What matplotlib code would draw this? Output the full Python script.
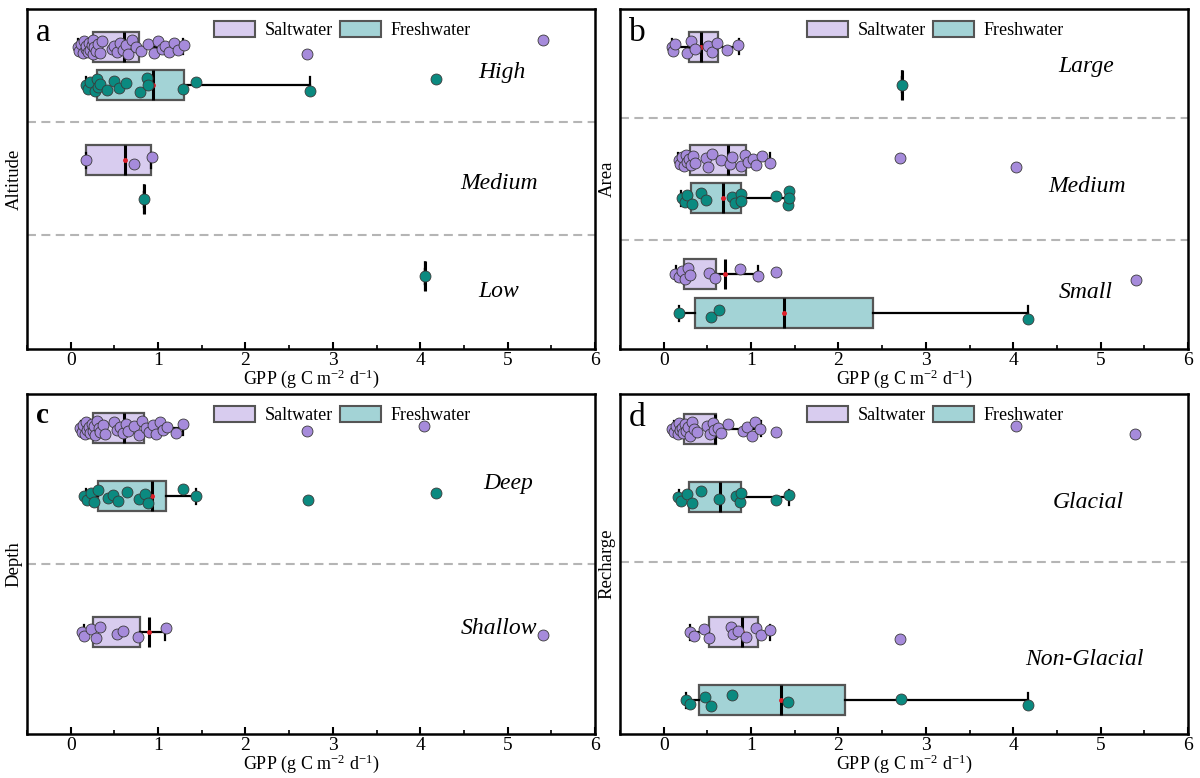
import numpy as np
import matplotlib.pyplot as plt
from matplotlib.patches import Patch

plt.rcParams['font.family'] = ['Liberation Serif', 'DejaVu Serif']
plt.rcParams['mathtext.default'] = 'regular'

SALT_FILL = '#d8ccef'
SALT_DOT = '#a68bdb'
FRESH_FILL = '#a3d3d6'
FRESH_DOT = '#0b8a80'
EDGE = '#555555'

# ---- a: Altitude ----
a_cats = ['High', 'Medium', 'Low']
a_salt_high = [0.08, 0.10, 0.12, 0.14, 0.15, 0.17, 0.18, 0.20, 0.21, 0.22, 0.24, 0.25, 0.26,
               0.27, 0.29, 0.31, 0.33, 0.36, 0.47, 0.50, 0.53, 0.56, 0.60, 0.63, 0.66, 0.70,
               0.75, 0.80, 0.88, 0.95, 1.00, 1.04, 1.08, 1.12, 1.18, 1.23, 1.30, 2.70, 5.40]
a_fresh_high = [0.17, 0.20, 0.22, 0.28, 0.30, 0.31, 0.33, 0.42, 0.49, 0.555, 0.635, 0.79,
                0.87, 0.89, 1.29, 1.43, 2.74, 4.18]
a_salt_med = [0.17, 0.73, 0.93]
a_fresh_med = [0.835]
a_fresh_low = [4.05]
# box stats: (whisker low, q1, median, q3, whisker high)
a_salt_box = [(0.08, 0.25, 0.615, 0.785, 1.29), (0.17, 0.17, 0.62, 0.92, 0.92), None]
a_fresh_box = [(0.17, 0.30, 0.94, 1.30, 2.74), (0.835,) * 5, (4.05,) * 5]

# ---- b: Area ----
b_cats = ['Large', 'Medium', 'Small']
b_salt_large = [0.09, 0.11, 0.13, 0.27, 0.31, 0.36, 0.51, 0.55, 0.61, 0.72, 0.85]
b_fresh_large = [2.73]
b_salt_med = [0.17, 0.19, 0.21, 0.23, 0.25, 0.27, 0.29, 0.31, 0.33, 0.36, 0.48, 0.51, 0.55,
              0.66, 0.76, 0.78, 0.89, 0.93, 0.97, 1.02, 1.06, 1.12, 1.22, 2.70, 4.03]
b_fresh_med = [0.21, 0.24, 0.27, 0.32, 0.43, 0.48, 0.78, 0.81, 0.88, 0.89, 1.28, 1.42, 1.43, 1.43]
b_salt_small = [0.13, 0.17, 0.21, 0.24, 0.28, 0.30, 0.52, 0.59, 0.87, 1.08, 1.28, 5.40]
b_fresh_small = [0.17, 0.54, 0.635, 4.17]
b_salt_box = [(0.09, 0.285, 0.426, 0.62, 0.86), (0.16, 0.30, 0.74, 0.94, 1.22),
              (0.14, 0.23, 0.70, 0.60, 1.08)]
b_fresh_box = [(2.73,) * 5, (0.20, 0.31, 0.68, 0.89, 1.43), (0.17, 0.36, 1.38, 2.40, 4.17)]

# ---- c: Depth ----
c_cats = ['Deep', 'Shallow']
c_salt_deep = [0.11, 0.13, 0.14, 0.16, 0.18, 0.19, 0.21, 0.22, 0.24, 0.25, 0.27, 0.28, 0.30,
               0.32, 0.34, 0.37, 0.39, 0.50, 0.53, 0.56, 0.60, 0.63, 0.66, 0.73, 0.78, 0.82,
               0.86, 0.90, 0.94, 0.98, 1.02, 1.06, 1.10, 1.21, 1.29, 2.71, 4.04]
c_fresh_deep = [0.155, 0.19, 0.23, 0.27, 0.31, 0.43, 0.48, 0.54, 0.64, 0.78, 0.85, 0.88,
                1.29, 1.43, 2.72, 4.18]
c_salt_shallow = [0.135, 0.155, 0.23, 0.29, 0.33, 0.53, 0.60, 0.77, 1.09, 5.40]
c_salt_box = [(0.12, 0.26, 0.615, 0.84, 1.29), (0.15, 0.25, 0.90, 0.79, 1.08)]
c_fresh_box = [(0.17, 0.31, 0.93, 1.09, 1.43), None]

# ---- d: Recharge ----
d_cats = ['Glacial', 'Non-Glacial']
d_salt_glacial = [0.10, 0.12, 0.14, 0.16, 0.18, 0.19, 0.21, 0.22, 0.24, 0.26, 0.28, 0.30,
                  0.32, 0.35, 0.38, 0.50, 0.53, 0.56, 0.58, 0.62, 0.66, 0.73, 0.91, 0.95,
                  1.01, 1.05, 1.10, 1.28, 4.03, 5.39]
d_fresh_glacial = [0.16, 0.20, 0.27, 0.32, 0.43, 0.63, 0.83, 0.87, 0.89, 1.28, 1.43]
d_salt_non = [0.295, 0.35, 0.46, 0.52, 0.77, 0.79, 0.85, 0.94, 1.06, 1.11, 1.22, 2.70]
d_fresh_non = [0.25, 0.30, 0.47, 0.54, 0.78, 1.42, 2.72, 4.17]
d_salt_box = [(0.12, 0.23, 0.59, 0.60, 1.11), (0.295, 0.52, 0.90, 1.08, 1.22)]
d_fresh_box = [(0.17, 0.294, 0.64, 0.885, 1.43), (0.26, 0.40, 1.34, 2.08, 4.17)]

# fixed jitter pattern for the dots (fraction of the max offset)
JIT = np.array([0.0, 0.55, -0.45, 0.85, -0.85, 0.25, -0.15, 0.7, -0.65, 0.4, -0.3, 1.0, -1.0])


def draw_group(ax, pts, stats, pos, height, fill, dot, amp):
    if stats is not None:
        lo, q1, med, q3, hi = stats
        ax.bxp([dict(whislo=lo, q1=q1, med=med, q3=q3, whishi=hi, mean=med, fliers=[])],
               positions=[pos], widths=height, orientation='horizontal',
               patch_artist=True, showmeans=True, showfliers=False,
               boxprops=dict(facecolor=fill, edgecolor=EDGE, linewidth=1.6),
               medianprops=dict(color='black', linewidth=2.2),
               whiskerprops=dict(color='black', linewidth=1.6),
               capprops=dict(color='black', linewidth=1.6),
               meanprops=dict(marker='o', markerfacecolor='#e0202a', markeredgecolor='#e0202a',
                              markersize=2.5),
               capwidths=height * 0.5, manage_ticks=False, zorder=2)
    if pts:
        jit = JIT[np.arange(len(pts)) % len(JIT)] * amp
        ax.scatter(pts, pos + jit, s=62, color=dot, edgecolors='#3a3a3a',
                   linewidths=0.6, zorder=3)


def setup(ax, ylabel, letter, ylim, dash_y, bold=False):
    ax.set_xlim(-0.5, 6)
    ax.set_ylim(*ylim)
    ax.set_yticks([])
    ax.set_xticks(range(7))
    ax.set_xticks(np.arange(-0.5, 6.01, 0.5), minor=True)
    ax.tick_params(axis='x', which='major', direction='in', length=5, width=1.5, labelsize=14, pad=2)
    ax.tick_params(axis='x', which='minor', direction='in', length=3, width=1.2)
    for s in ax.spines.values():
        s.set_linewidth(1.8)
    ax.set_ylabel(ylabel, fontsize=13.5, labelpad=3)
    ax.set_xlabel('GPP (g C m$^{-2}$ d$^{-1}$)', fontsize=13, labelpad=-1)
    for y in dash_y:
        ax.axhline(y, color='#b5b5b5', lw=1.5, ls=(0, (4.3, 2.6)), zorder=1)
    ax.text(0.016, 0.975, letter, transform=ax.transAxes, fontsize=21 if bold else 24,
            fontweight='bold' if bold else 'normal', ha='left', va='top')
    handles = [Patch(facecolor=SALT_FILL, edgecolor=EDGE, lw=1.5, label='Saltwater'),
               Patch(facecolor=FRESH_FILL, edgecolor=EDGE, lw=1.5, label='Freshwater')]
    ax.legend(handles=handles, loc='upper center', bbox_to_anchor=(0.555, 1.012), ncol=2,
              frameon=False, fontsize=13, handlelength=2.3, handleheight=1.0,
              columnspacing=0.4, handletextpad=0.5)


fig = plt.figure(figsize=(12, 7.78), dpi=100)
ax_a = fig.add_axes([0.0225, 0.5514, 0.4733, 0.437])
ax_b = fig.add_axes([0.5167, 0.5514, 0.4733, 0.437])
ax_c = fig.add_axes([0.0225, 0.056, 0.4733, 0.4376])
ax_d = fig.add_axes([0.5167, 0.056, 0.4733, 0.4376])

# top row: 3 classes, ~113 px per unit -> box 0.265, jitter 0.06
hb, amp3 = 0.265, 0.06
salt = [a_salt_high, a_salt_med, []]
fresh = [a_fresh_high, a_fresh_med, a_fresh_low]
for pts, st, p in zip(salt, a_salt_box, [-0.165, 0.835, None]):
    if p is not None:
        draw_group(ax_a, pts, st, p, hb, SALT_FILL, SALT_DOT, amp3)
for pts, st, p in zip(fresh, a_fresh_box, [0.17, 1.18, 1.86]):
    draw_group(ax_a, pts, st, p, hb, FRESH_FILL, FRESH_DOT, amp3)
setup(ax_a, 'Altitude', 'a', (2.5, -0.5), [0.497, 1.495])
for lab, x, y in zip(a_cats, [4.93, 4.9, 4.9], [0.056, 1.04, 1.99]):
    ax_a.text(x, y, lab, style='italic', fontsize=17, ha='center', va='center')

salt = [b_salt_large, b_salt_med, b_salt_small]
fresh = [b_fresh_large, b_fresh_med, b_fresh_small]
for pts, st, p in zip(salt, b_salt_box, [-0.165, 0.835, 1.835]):
    draw_group(ax_b, pts, st, p, hb, SALT_FILL, SALT_DOT, amp3)
for pts, st, p in zip(fresh, b_fresh_box, [0.17, 1.17, 2.185]):
    draw_group(ax_b, pts, st, p, hb, FRESH_FILL, FRESH_DOT, amp3)
setup(ax_b, 'Area', 'b', (2.5, -0.5), [0.462, 1.539])
for lab, x, y in zip(b_cats, [4.83, 4.85, 4.83], [0.01, 1.07, 2.0]):
    ax_b.text(x, y, lab, style='italic', fontsize=17, ha='center', va='center')

# bottom row: 2 classes, ~171 px per unit -> box 0.175, jitter 0.04
hb2, amp2 = 0.175, 0.04
draw_group(ax_c, c_salt_deep, c_salt_box[0], -0.30, hb2, SALT_FILL, SALT_DOT, amp2)
draw_group(ax_c, c_salt_shallow, c_salt_box[1], 0.90, hb2, SALT_FILL, SALT_DOT, amp2)
draw_group(ax_c, c_fresh_deep, c_fresh_box[0], 0.10, hb2, FRESH_FILL, FRESH_DOT, amp2)
setup(ax_c, 'Depth', 'c', (1.5, -0.5), [0.5], bold=True)
for lab, x, y in zip(c_cats, [5.01, 4.9], [0.026, 0.88]):
    ax_c.text(x, y, lab, style='italic', fontsize=17, ha='center', va='center')

draw_group(ax_d, d_salt_glacial, d_salt_box[0], -0.296, hb2, SALT_FILL, SALT_DOT, amp2)
draw_group(ax_d, d_salt_non, d_salt_box[1], 0.90, hb2, SALT_FILL, SALT_DOT, amp2)
draw_group(ax_d, d_fresh_glacial, d_fresh_box[0], 0.106, hb2, FRESH_FILL, FRESH_DOT, amp2)
draw_group(ax_d, d_fresh_non, d_fresh_box[1], 1.30, hb2, FRESH_FILL, FRESH_DOT, amp2)
setup(ax_d, 'Recharge', 'd', (1.5, -0.5), [0.485])
for lab, x, y in zip(d_cats, [4.86, 4.81], [0.136, 1.06]):
    ax_d.text(x, y, lab, style='italic', fontsize=17, ha='center', va='center')

fig.savefig('out.png', dpi=100)
